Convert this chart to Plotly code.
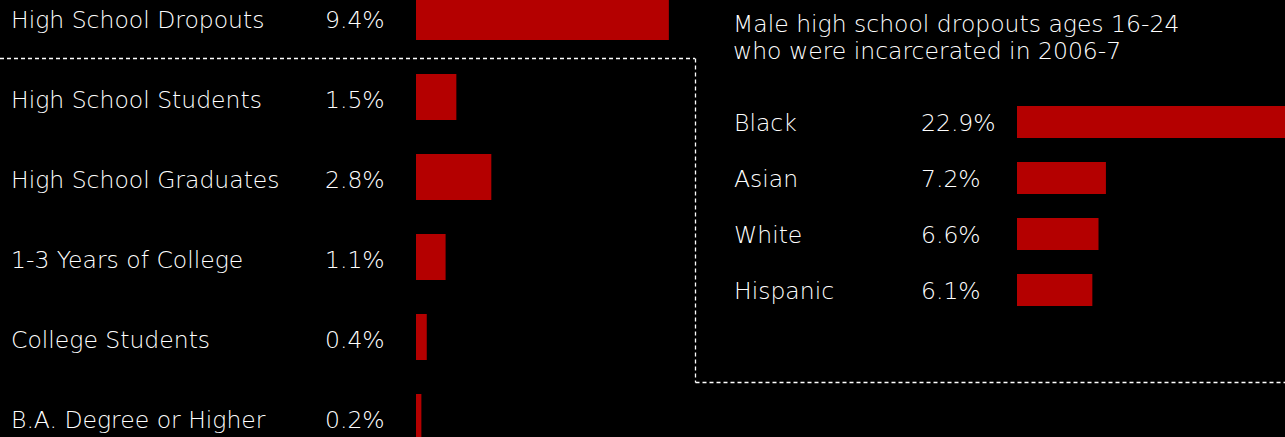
import plotly.graph_objects as go

W, H = 1285, 437

# Left panel data
edu_levels = ["High School Dropouts", "High School Students", "High School Graduates",
              "1-3 Years of College", "College Students", "B.A. Degree or Higher"]
edu_values = [9.4, 1.5, 2.8, 1.1, 0.4, 0.2]

# Right panel data
race_groups = ["Black", "Asian", "White", "Hispanic"]
race_values = [22.9, 7.2, 6.6, 6.1]

title_lines = ["Male high school dropouts ages 16-24", "who were incarcerated in 2006-7"]

BAR = "#b40000"
TXT = "#ffffff"
FONT = "DejaVu Sans"
FS = 23.5
WT = 200

def px(x):
    return x / W

def py(y):
    return 1 - y / H

def f():
    return dict(family=FONT, size=FS, color=TXT, weight=WT)

fig = go.Figure()
fig.add_trace(go.Bar(x=edu_values, y=edu_levels, orientation="h", marker_color=BAR,
                     marker_line_width=0, width=0.575, xaxis="x", yaxis="y",
                     hoverinfo="skip", showlegend=False))
fig.add_trace(go.Bar(x=race_values, y=race_groups, orientation="h", marker_color=BAR,
                     marker_line_width=0, width=0.57, xaxis="x2", yaxis="y2",
                     hoverinfo="skip", showlegend=False))

ann = []
for lab, v in zip(edu_levels, edu_values):
    ann.append(dict(x=px(9), y=lab, xref="paper", yref="y", text=lab, showarrow=False,
                    xanchor="left", yanchor="middle", yshift=-3, font=f()))
    ann.append(dict(x=px(323), y=lab, xref="paper", yref="y", text=f"{v}%", showarrow=False,
                    xanchor="left", yanchor="middle", yshift=-3, font=f()))
for lab, v in zip(race_groups, race_values):
    ann.append(dict(x=px(732), y=lab, xref="paper", yref="y2", text=lab, showarrow=False,
                    xanchor="left", yanchor="middle", yshift=-1, font=f()))
    ann.append(dict(x=px(919), y=lab, xref="paper", yref="y2", text=f"{v}%", showarrow=False,
                    xanchor="left", yanchor="middle", yshift=-1, font=f()))
for i, line in enumerate(title_lines):
    ann.append(dict(x=px(731), y=py(24 + 27 * i), xref="paper", yref="paper", text=line,
                    showarrow=False, xanchor="left", yanchor="middle", align="left", font=f()))

dash = "4px,3px"
shapes = [
    dict(type="line", xref="paper", yref="paper", x0=0, x1=px(695), y0=py(58.5), y1=py(58.5),
         line=dict(color="white", width=1.3, dash=dash)),
    dict(type="line", xref="paper", yref="paper", x0=px(695.5), x1=px(695.5), y0=py(58.5), y1=py(382.5),
         line=dict(color="white", width=1.3, dash=dash)),
    dict(type="line", xref="paper", yref="paper", x0=px(695.5), x1=1, y0=py(382.5), y1=py(382.5),
         line=dict(color="white", width=1.3, dash=dash)),
]

left_scale = 26.9   # px per %
right_scale = 12.35

fig.update_layout(
    width=W, height=H, margin=dict(l=0, r=0, t=0, b=0),
    paper_bgcolor="black", plot_bgcolor="rgba(0,0,0,0)",
    xaxis=dict(domain=[px(416), px(690)], range=[0, (690 - 416) / left_scale],
               visible=False, fixedrange=True),
    yaxis=dict(domain=[0, 1], range=[(H - 17) / 80, -17 / 80], type="category",
               categoryorder="array", categoryarray=edu_levels, visible=False),
    xaxis2=dict(domain=[px(1017), 1], range=[0, (W - 1017) / right_scale],
                visible=False, anchor="y2"),
    yaxis2=dict(domain=[0, 1], range=[(H - 122) / 56, -122 / 56], type="category",
                categoryorder="array", categoryarray=race_groups, visible=False, anchor="x2"),
    annotations=ann, shapes=shapes,
)

fig.write_html("out.html")
